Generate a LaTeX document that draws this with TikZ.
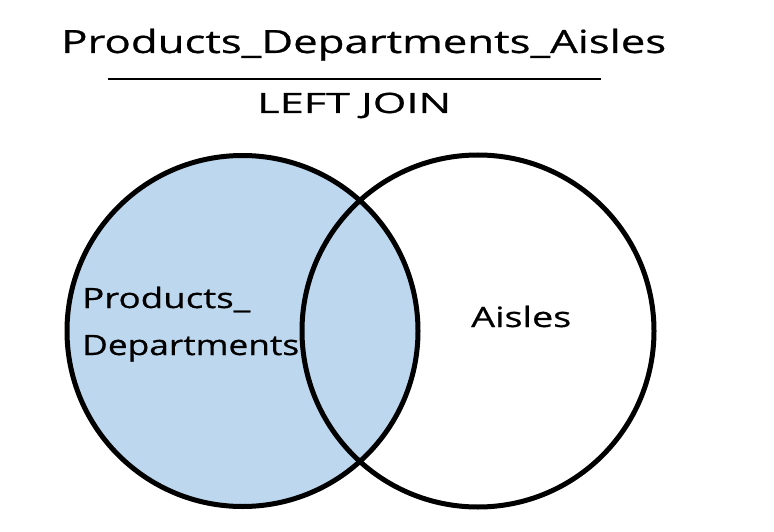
\documentclass[tikz,border=0pt]{standalone}
\usepackage{fontspec}
\usepackage{graphicx}
\setmainfont{Open Sans}[FakeBold=0.6]
\definecolor{setblue}{HTML}{BDD7EE}
% set a text at a given size, stretched horizontally to a given width
\newcommand\widetext[3]{\resizebox{#2}{\height}{\fontsize{#1}{#1}\selectfont #3}}
\tikzset{
  setcircle/.style={draw=black, line width=5pt},
  label/.style={inner sep=0pt, anchor=base west, text=black},
}
\begin{document}
\begin{tikzpicture}[x=1pt, y=-1pt]
  \useasboundingbox (0,0) rectangle (774,532);
  % circle centres
  \coordinate (L) at (242.5,331);
  \coordinate (R) at (478,331);
  % left set filled
  \fill[setblue] (L) circle[radius=175.5];
  \draw[setcircle] (L) circle[radius=175.5];
  \draw[setcircle] (R) circle[radius=176];
  % title block
  \node[label] (title) at (61,53) {\widetext{32}{605pt}{Products\_Departments\_Aisles}};
  \coordinate (ruleA) at (108,79);
  \coordinate (ruleB) at (601,79);
  \draw[line width=1.6pt] (ruleA) -- (ruleB);
  \node[label] (join) at (257,113) {\widetext{28}{194pt}{LEFT JOIN}};
  % set labels
  \node[label] (pd1) at (82,308) {\widetext{28}{168pt}{Products\_}};
  \node[label] (pd2) at (82,355) {\widetext{28}{217pt}{Departments}};
  \node[label] (aisles) at (471,327) {\widetext{28}{100pt}{Aisles}};
\end{tikzpicture}
\end{document}
